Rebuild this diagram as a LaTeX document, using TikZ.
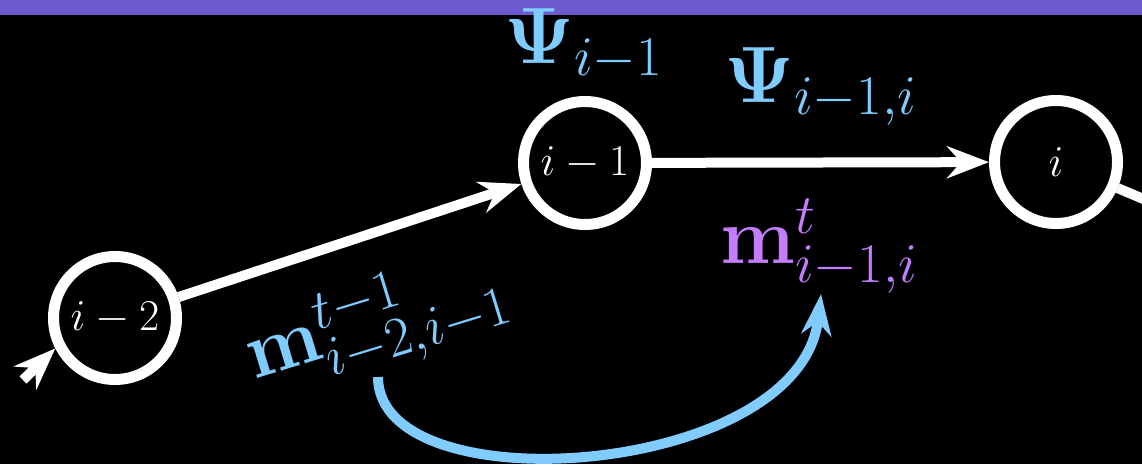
\documentclass[tikz,border=0pt]{standalone}
\usepackage{fix-cm}
\usepackage{amsmath}
\usepackage{bm}
\usetikzlibrary{arrows.meta}
\definecolor{barcol}{RGB}{106,90,205}
\definecolor{lblue}{RGB}{128,204,255}
\definecolor{lpurple}{RGB}{197,125,255}
\tikzset{
  vert/.style={circle, draw=white, line width=11pt, fill=black, minimum size=123pt, inner sep=0pt, text=white, font=\fontsize{44}{50}\selectfont},
  tip/.style={-{Stealth[length=42pt,width=32pt,inset=14pt]}},
  edge/.style={draw=white, line width=10pt, tip},
  plainedge/.style={draw=white, line width=10pt},
  msgedge/.style={draw=lblue, line width=10pt, -{Stealth[length=41pt,width=30pt,inset=13pt]}},
  lab/.style={inner sep=0pt, anchor=base west, text=lblue, font=\fontsize{80}{90}\selectfont},
}
\begin{document}
\begin{tikzpicture}[x=1pt,y=-1pt]
\useasboundingbox (0,0) rectangle (1142,464);
\clip (0,0) rectangle (1142,464);
\fill[black] (0,0) rectangle (1142,464);
\fill[barcol] (0,0) rectangle (1142,15);

\node[vert] (n2) at (115,318) {$i-2$};
\node[vert] (n1) at (585,163) {$i-1$};
\node[vert] (n0) at (1056,162) {$i$};

\coordinate (tail) at (23,380);
\coordinate (nx) at (1500,350);
\draw[edge] (tail) -- (n2.207);
\draw[edge] (n2) -- (n1);
\draw[edge] (n1) -- (n0);
\draw[plainedge] (n0) -- (nx);

\node[lab] (psi1) at (504,63) {$\bm{\Psi}_{i-1}$};
\node[lab] (psi2) at (724,102) {$\bm{\Psi}_{i-1,i}$};
\node[lab, text=lpurple] (mt) at (720,263) {$\mathbf{m}^{t}_{i-1,i}$};
\node[lab, text=lblue, rotate=17] (mt1) at (254,380) {$\mathbf{m}^{t-1}_{i-2,i-1}$};

\coordinate (ms) at (378,377);
\coordinate (me) at (821,294);
\draw[msgedge] (ms) .. controls (378,507) and (800,478) .. (me);
\end{tikzpicture}
\end{document}
